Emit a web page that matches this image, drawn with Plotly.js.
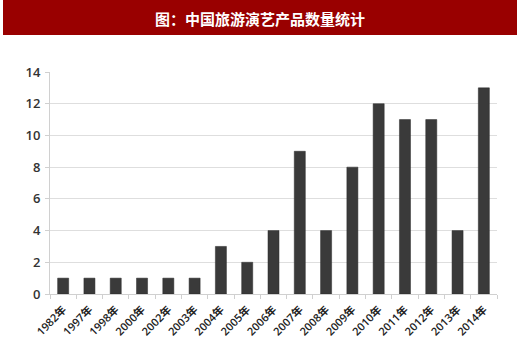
<!DOCTYPE html>
<html>
<head>
<meta charset="utf-8">
<script src="https://cdn.plot.ly/plotly-3.0.1.min.js"></script>
<style>html,body{margin:0;padding:0;background:#fff;}#chart{width:520px;height:356px;}</style>
</head>
<body>
<div id="chart"></div>
<script>
const titleText = "图：中国旅游演艺产品数量统计";
const categories = ["1982年","1997年","1998年","2000年","2002年","2003年","2004年","2005年","2006年","2007年","2008年","2009年","2010年","2011年","2012年","2013年","2014年"];
const counts = [1,1,1,1,1,1,3,2,4,9,4,8,12,11,11,4,13];
const yTicks = [0,2,4,6,8,10,12,14];

const L = 50, R = 23, T = 72, B = 62, W = 520, H = 356;
const pw = W - L - R, ph = H - T - B;
const px = x => (x - L) / pw;
const py = y => (H - B - y) / ph;

Plotly.newPlot('chart', [{
  type: 'bar',
  x: categories,
  y: counts,
  marker: {color: '#3a3a3a', line: {color: '#2a2a2a', width: 0.5}},
  hoverinfo: 'x+y'
}], {
  width: W, height: H,
  margin: {l: L, r: R, t: T, b: B, pad: 0},
  paper_bgcolor: '#ffffff',
  plot_bgcolor: '#ffffff',
  bargap: 0.58,
  showlegend: false,
  font: {family: '"Open Sans", "Noto Sans CJK SC", sans-serif', color: '#333333'},
  xaxis: {
    type: 'category',
    tickangle: -45,
    tickfont: {size: 11, color: '#222222', family: '"Open Sans", "Noto Sans CJK SC", sans-serif', weight: 600},
    ticklabelstandoff: 4,
    showline: true, linecolor: '#d0d0d0', linewidth: 1,
    ticks: 'outside', ticklen: 4, tickcolor: '#d0d0d0', tickson: 'boundaries',
    showgrid: false, zeroline: false
  },
  yaxis: {
    range: [0, 14],
    tickvals: yTicks,
    ticktext: yTicks.map(String),
    tickfont: {size: 13, color: '#333333', family: '"Open Sans", sans-serif', weight: 600},
    ticklabelstandoff: 2,
    showline: true, linecolor: '#d0d0d0', linewidth: 1,
    ticks: 'outside', ticklen: 4, tickcolor: '#d0d0d0',
    showgrid: true, gridcolor: '#dedede', gridwidth: 1,
    zeroline: false
  },
  shapes: [{
    type: 'rect', xref: 'paper', yref: 'paper',
    x0: px(3), x1: px(517), y0: py(35), y1: py(0),
    fillcolor: '#990000', line: {width: 0}, layer: 'below'
  }],
  annotations: [{
    xref: 'paper', yref: 'paper', x: px(260), y: py(18),
    xanchor: 'center', yanchor: 'middle', showarrow: false,
    text: '<b>' + titleText + '</b>',
    font: {size: 15, color: '#ffffff', family: '"Noto Sans CJK SC", sans-serif'}
  }]
}, {displayModeBar: false, staticPlot: true});
</script>
</body>
</html>
